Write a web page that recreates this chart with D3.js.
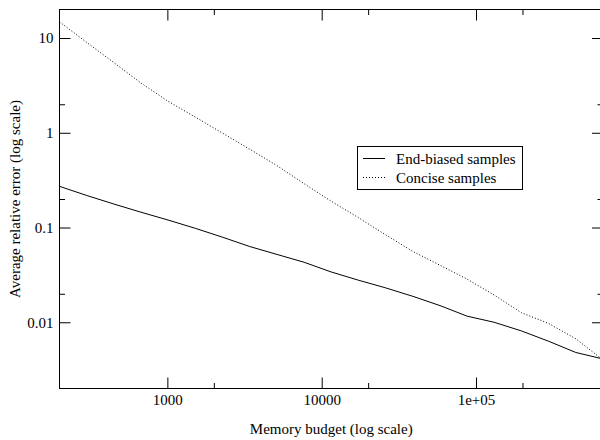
<!DOCTYPE html>
<html lang="en">
    <head>
        <meta charset="UTF-8">
        <title>Average relative error vs memory budget</title>
        <style>
            body {
                margin: 0;
                background: #fff;
            }
            .frame {
                fill: none;
                stroke: #000;
                stroke-width: 1;
            }
            .tick line {
                stroke: #000;
            }
            .series {
                fill: none;
                stroke: #000;
                stroke-width: 1;
            }
        </style>
    </head>
    <body>
        <div id="chart"></div>
        <script src="https://d3js.org/d3.v7.min.js"></script>
        <script>
            // memory budgets (x)
            const budgets = [200, 300, 450, 675, 1010, 1520, 2280, 3420, 5130, 7690, 11500,
                             17300, 25900, 38900, 58400, 87600, 131000, 197000, 296000, 443000, 665000];
            // average relative error, end-biased samples
            const endBiased = [0.272, 0.218, 0.177, 0.145, 0.120, 0.098, 0.079, 0.063, 0.052, 0.043, 0.034,
                               0.0278, 0.0231, 0.0188, 0.0150, 0.0116, 0.0100, 0.0081, 0.0063, 0.0048, 0.0041];
            // average relative error, concise samples
            const concise = [14.8, 9.0, 5.5, 3.35, 2.15, 1.46, 0.99, 0.67, 0.45, 0.29, 0.19,
                             0.127, 0.084, 0.056, 0.040, 0.0285, 0.0194, 0.0126, 0.0097, 0.0067, 0.0040];
            const seriesNames = ["End-biased samples", "Concise samples"];

            const xMajor = [1000, 10000, 100000];
            const xMinor = [2000, 20000, 200000];
            const xMajorLabels = ["1000", "10000", "1e+05"];
            const yMajor = [0.01, 0.1, 1, 10];
            const yMinor = [0.02, 0.2, 2];
            const yMajorLabels = ["0.01", "0.1", "1", "10"];

            const width = 600, height = 440;
            const plotL = 59.5, plotR = 603, plotT = 9.5, plotB = 388.5;
            const fontFam = '"Liberation Serif", "Times New Roman", serif';

            const svg = d3.select("#chart").append("svg")
                .attr("width", width)
                .attr("height", height)
                .style("font-family", fontFam)
                .style("font-size", "15px");

            const x = d3.scaleLog().domain([200, 665000]).range([plotL, plotR]);
            const y = d3.scaleLog().domain([0.002, 20]).range([plotB, plotT]);

            // ticks point inward on all four sides (gnuplot style)
            function addAxis(axisFn, scale, pos, values, labels, size) {
                const ax = axisFn(scale)
                    .tickValues(values)
                    .tickSizeInner(-size)
                    .tickSizeOuter(0)
                    .tickPadding(6)
                    .tickFormat((d, i) => labels ? labels[i] : "");
                const g = svg.append("g")
                    .attr("transform", pos)
                    .call(ax);
                g.select(".domain").remove();
                g.attr("font-size", null).attr("font-family", null);
                g.selectAll("text")
                    .style("font-family", fontFam)
                    .style("font-size", "15px")
                    .attr("fill", "#000");
                return g;
            }

            addAxis(d3.axisBottom, x, `translate(0,${plotB})`, xMajor, xMajorLabels, 11);
            addAxis(d3.axisBottom, x, `translate(0,${plotB})`, xMinor, null, 5.5);
            addAxis(d3.axisTop, x, `translate(0,${plotT})`, xMajor, null, 11);
            addAxis(d3.axisTop, x, `translate(0,${plotT})`, xMinor, null, 5.5);
            addAxis(d3.axisLeft, y, `translate(${plotL},0)`, yMajor, yMajorLabels, 11);
            addAxis(d3.axisLeft, y, `translate(${plotL},0)`, yMinor, null, 5.5);
            addAxis(d3.axisRight, y, `translate(${plotR},0)`, yMajor, null, 11);
            addAxis(d3.axisRight, y, `translate(${plotR},0)`, yMinor, null, 5.5);

            svg.append("rect")
                .attr("class", "frame")
                .attr("x", plotL)
                .attr("y", plotT)
                .attr("width", plotR - plotL)
                .attr("height", plotB - plotT);

            // curves
            const line = d3.line()
                .x((d, i) => x(budgets[i]))
                .y(d => y(d));

            svg.append("path")
                .attr("class", "series")
                .attr("d", line(endBiased));

            svg.append("path")
                .attr("class", "series")
                .attr("stroke-dasharray", "1,2")
                .attr("d", line(concise));

            // axis titles
            svg.append("text")
                .attr("x", (plotL + plotR) / 2)
                .attr("y", 434)
                .attr("text-anchor", "middle")
                .style("font-family", fontFam)
                .text("Memory budget (log scale)");

            svg.append("text")
                .attr("transform", `translate(19.5,${(plotT + plotB) / 2}) rotate(-90)`)
                .attr("text-anchor", "middle")
                .style("font-family", fontFam)
                .text("Average relative error (log scale)");

            // legend
            const legend = svg.append("g");
            legend.append("rect")
                .attr("class", "frame")
                .attr("x", 357.5)
                .attr("y", 146.5)
                .attr("width", 165)
                .attr("height", 43);

            seriesNames.forEach((name, i) => {
                const ly = 158.5 + i * 19;
                legend.append("line")
                    .attr("class", "series")
                    .attr("x1", 363)
                    .attr("x2", 385)
                    .attr("y1", ly)
                    .attr("y2", ly)
                    .attr("stroke-dasharray", i === 1 ? "1,2" : null);
                legend.append("text")
                    .attr("x", 396)
                    .attr("y", ly + 5)
                    .style("font-family", fontFam)
                    .text(name);
            });
        </script>
    </body>
</html>
